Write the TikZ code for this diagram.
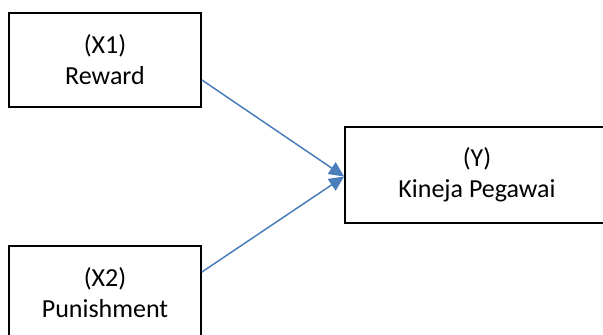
\documentclass[tikz,border=0pt]{standalone}
\usepackage{fontspec}
\setmainfont{Carlito}
\usetikzlibrary{arrows.meta}
\definecolor{linkblue}{RGB}{74,126,187}
\begin{document}
\begin{tikzpicture}[x=1pt, y=-1pt,
  varbox/.style={draw=black, line width=1.8pt, rectangle, align=center,
    inner sep=0pt, font=\fontsize{26}{31}\selectfont},
  link/.style={draw=linkblue, line width=1.5pt,
    -{Triangle[length=15pt,width=14pt]}}]
  \clip (0,0) rectangle (603,335);
  \fill[white] (0,0) rectangle (603,335);
  % variable boxes
  \node[varbox, minimum width=192pt, minimum height=94pt] (x1) at (105,60) {(X1)\\Reward};
  \node[varbox, minimum width=264pt, minimum height=96pt] (y) at (477,175) {(Y)\\Kineja Pegawai};
  \node[varbox, minimum width=192pt, minimum height=94pt] (x2) at (105,293) {(X2)\\Punishment};
  % influence arrows
  \coordinate (tip) at ([yshift=-1.5pt]y.west);
  \draw[link] ([yshift=-20pt]x1.east) -- (tip);
  \draw[link] ([yshift=21pt]x2.east) -- (tip);
\end{tikzpicture}
\end{document}
